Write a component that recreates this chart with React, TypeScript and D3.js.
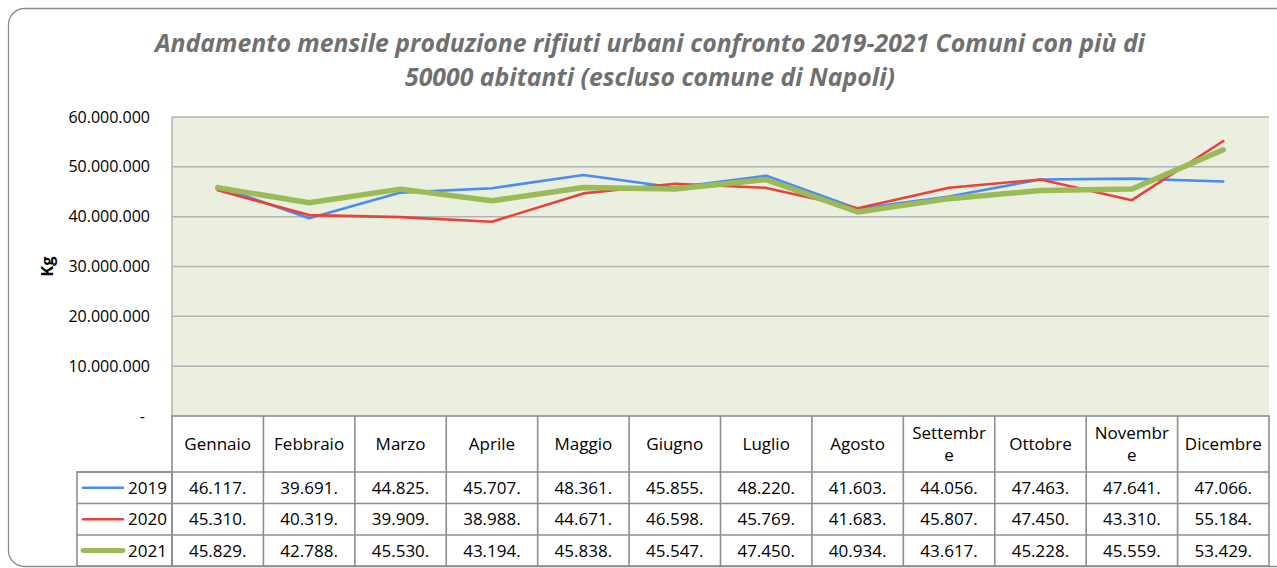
import React from "react";
import * as d3 from "d3";

const months = ["Gennaio", "Febbraio", "Marzo", "Aprile", "Maggio", "Giugno", "Luglio", "Agosto", "Settembre", "Ottobre", "Novembre", "Dicembre"];
const monthLabels = [["Gennaio"], ["Febbraio"], ["Marzo"], ["Aprile"], ["Maggio"], ["Giugno"], ["Luglio"], ["Agosto"], ["Settembr", "e"], ["Ottobre"], ["Novembr", "e"], ["Dicembre"]];
const years = ["2019", "2020", "2021"];
const v2019 = [46117, 39691, 44825, 45707, 48361, 45855, 48220, 41603, 44056, 47463, 47641, 47066];
const v2020 = [45310, 40319, 39909, 38988, 44671, 46598, 45769, 41683, 45807, 47450, 43310, 55184];
const v2021 = [45829, 42788, 45530, 43194, 45838, 45547, 47450, 40934, 43617, 45228, 45559, 53429];
const seriesValues = [v2019, v2020, v2021];
const colors = ["#4a8cf4", "#e8423a", "#9bbb59"];
const widths = [2.6, 2.6, 5.5];
const yTicks = [0, 10000000, 20000000, 30000000, 40000000, 50000000, 60000000];

const W = 1277, H = 568;
const plotL = 172, plotR = 1269, plotT = 117, plotB = 416;
const rowBottoms = [472, 503.5, 535, 566];
const legL = 77;
const font = "'Open Sans', sans-serif";

const fmtTick = (v: number) => (v === 0 ? "-" : d3.format(",")(v).replace(/,/g, "."));
const fmtCell = (v: number) => d3.format(",")(v).replace(/,/g, ".") + ".";

export default function App() {
  const x = d3.scaleBand<string>().domain(months).range([plotL, plotR]);
  const y = d3.scaleLinear().domain([0, 60000000]).range([plotB, plotT]);
  const cx = (m: string) => (x(m) as number) + x.bandwidth() / 2;
  const line = d3.line<number>().x((_, i) => cx(months[i])).y((d) => y(d * 1000));
  const grid = "#b3b3b3";
  const tb = "#8e8e8e";
  const fs = 17;

  return (
    <svg width={W} height={H} style={{ position: "absolute", left: 0, top: 0, background: "#fff" }}>
      <rect x={8.5} y={8.5} width={1300} height={558} rx={16} fill="#fff" stroke="#8c8c8c" strokeWidth={1.3} />
      <text x={650} y={52} textAnchor="middle" fontFamily={font} fontStyle="italic" fontWeight="bold" fontSize={24.8} fill="#707070">
        Andamento mensile produzione rifiuti urbani confronto 2019-2021 Comuni con più di
      </text>
      <text x={650} y={86} textAnchor="middle" fontFamily={font} fontStyle="italic" fontWeight="bold" fontSize={24.8} fill="#707070">
        50000 abitanti (escluso comune di Napoli)
      </text>
      <rect x={plotL} y={plotT} width={plotR - plotL} height={plotB - plotT} fill="#ebefdf" />
      {yTicks.map((t) => (
        <g key={t}>
          {t > 0 && <line x1={plotL} x2={plotR} y1={y(t)} y2={y(t)} stroke={grid} strokeWidth={1.5} />}
          <text x={t === 0 ? 145 : 150} y={y(t) + 5.5} textAnchor="end" fontFamily={font} fontSize={16} fill="#000">
            {fmtTick(t)}
          </text>
        </g>
      ))}
      <line x1={plotL} x2={plotL} y1={plotT} y2={plotB} stroke={grid} strokeWidth={1.5} />
      <text transform={`translate(53,${(plotT + plotB) / 2}) rotate(-90)`} textAnchor="middle" fontFamily={font} fontWeight="bold" fontSize={16.5} fill="#000">
        Kg
      </text>
      {seriesValues.map((s, i) => (
        <path key={i} d={line(s) as string} fill="none" stroke={colors[i]} strokeWidth={widths[i]} strokeLinejoin="round" strokeLinecap="round" />
      ))}
      <g fill="none" stroke={tb} strokeWidth={1.6}>
        <rect x={plotL} y={plotB} width={plotR - plotL} height={rowBottoms[3] - plotB} />
        <rect x={legL} y={rowBottoms[0]} width={plotL - legL} height={rowBottoms[3] - rowBottoms[0]} />
        {rowBottoms.slice(0, 3).map((rb, i) => (
          <line key={i} x1={legL} x2={plotR} y1={rb} y2={rb} />
        ))}
        {months.slice(1).map((m) => (
          <line key={m} x1={x(m)} x2={x(m)} y1={plotB} y2={rowBottoms[3]} />
        ))}
      </g>
      {months.map((m, i) => {
        const lines = monthLabels[i];
        const mid = (plotB + rowBottoms[0]) / 2;
        return (
          <text key={m} x={cx(m)} textAnchor="middle" fontFamily={font} fontSize={fs} fill="#000">
            {lines.map((l, j) => (
              <tspan key={j} x={cx(m)} y={mid + 6 + (j - (lines.length - 1) / 2) * 22}>
                {l}
              </tspan>
            ))}
          </text>
        );
      })}
      {years.map((yr, r) => {
        const top = rowBottoms[r], bot = rowBottoms[r + 1];
        const mid = (top + bot) / 2;
        return (
          <g key={yr}>
            <line x1={83} x2={123} y1={mid} y2={mid} stroke={colors[r]} strokeWidth={widths[r] * 0.9} strokeLinecap="round" />
            <text x={167} y={mid + 6} textAnchor="end" fontFamily={font} fontSize={fs} fill="#000">{yr}</text>
            {seriesValues[r].map((v, i) => (
              <text key={i} x={cx(months[i])} y={mid + 6} textAnchor="middle" fontFamily={font} fontSize={fs} fill="#000">
                {fmtCell(v)}
              </text>
            ))}
          </g>
        );
      })}
    </svg>
  );
}
